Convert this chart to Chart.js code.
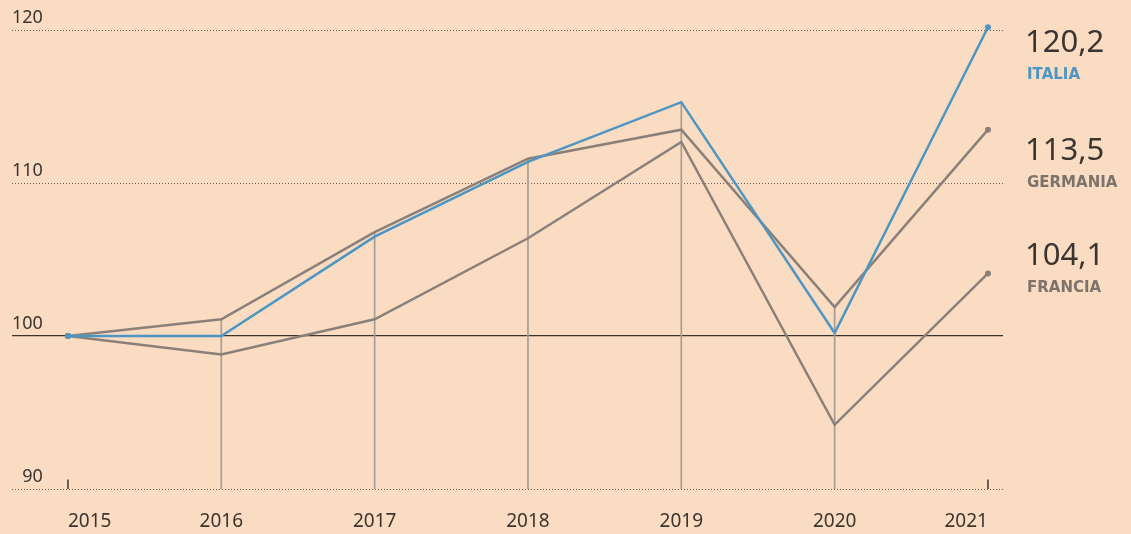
<!DOCTYPE html>
<html>
<head>
<meta charset="utf-8">
<script src="https://cdn.jsdelivr.net/npm/chart.js@4.4.1/dist/chart.umd.min.js"></script>
<style>
  html, body { margin: 0; padding: 0; background: #f9dcc1; }
  #wrap { width: 1131px; height: 534px; position: relative; }
</style>
</head>
<body>
<div id="wrap"><canvas id="grafico"></canvas></div>
<script>
// Dati (indice 2015 = 100)
const anni = [2015, 2016, 2017, 2018, 2019, 2020, 2021];
const italia = [100, 100, 106.5, 111.4, 115.3, 100.2, 120.2];
const germania = [100, 101.1, 106.8, 111.6, 113.5, 101.9, 113.5];
const francia = [100, 98.8, 101.1, 106.4, 112.7, 94.2, 104.1];
const tickY = [90, 100, 110, 120];
const nomi = ["ITALIA", "GERMANIA", "FRANCIA"];

const BLU = "#4d96c4";
const GRIGIO = "#8b8079";
const TESTO = "#3b3531";
const FONT = "'Noto Sans', sans-serif";

const grafico = document.getElementById("grafico");

// linee verticali: dal 90 fino al punto più alto di ogni anno
const ultimo = anni.length - 1;
const guide = anni.map((a, i) => {
  const cima = (i === 0 || i === ultimo) ? 90.6 : Math.max(italia[i], germania[i], francia[i]);
  return { x: a, y: [90, cima] };
});

const punti = anni.map((a, i) => (i === 0 || i === ultimo) ? 3 : 0);

// etichette a destra (valore 2021 + paese)
const etichette = {
  id: "etichette",
  afterDraw(chart) {
    const ctx = chart.ctx;
    const serie = [italia, germania, francia];
    const colori = [BLU, "#7c736c", "#7c736c"];
    const posY = [43, 151, 256];
    ctx.save();
    ctx.textAlign = "left";
    ctx.textBaseline = "middle";
    serie.forEach((s, i) => {
      ctx.fillStyle = TESTO;
      ctx.font = "31px " + FONT;
      ctx.fillText(s[s.length - 1].toFixed(1).replace(".", ","), 1025, posY[i]);
      ctx.fillStyle = colori[i];
      ctx.font = "bold 15px 'DejaVu Sans', sans-serif";
      ctx.fillText(nomi[i], 1027, posY[i] + 32);
    });
    ctx.restore();
  },
};

new Chart(grafico, {
  type: "line",
  data: {
    datasets: [
      {
        label: "Italia",
        data: anni.map((a, i) => ({ x: a, y: italia[i] })),
        borderColor: BLU,
        backgroundColor: BLU,
        borderWidth: 2.5,
        pointRadius: punti,
        pointBorderWidth: 0,
        tension: 0,
        order: 1,
      },
      {
        label: "Germania",
        data: anni.map((a, i) => ({ x: a, y: germania[i] })),
        borderColor: GRIGIO,
        backgroundColor: GRIGIO,
        borderWidth: 2.5,
        pointRadius: punti,
        pointBorderWidth: 0,
        tension: 0,
        order: 2,
      },
      {
        label: "Francia",
        data: anni.map((a, i) => ({ x: a, y: francia[i] })),
        borderColor: GRIGIO,
        backgroundColor: GRIGIO,
        borderWidth: 2.5,
        pointRadius: punti,
        pointBorderWidth: 0,
        tension: 0,
        order: 3,
      },
      {
        type: "bar",
        label: "guide",
        data: guide,
        backgroundColor: anni.map((a, i) => (i === 0 || i === ultimo) ? "#4e463f" : "#a69c94"),
        barThickness: 1,
        borderWidth: 0,
        order: 4,
      },
    ],
  },
  options: {
    responsive: true,
    maintainAspectRatio: false,
    animation: false,
    layout: {
      padding: { left: 12, right: 128, top: 15, bottom: 0 },
    },
    scales: {
      x: {
        type: "linear",
        min: 2014.635,
        max: 2021.098,
        offset: false,
        afterBuildTicks: (scale) => {
          scale.ticks = anni.map((v) => ({ value: v }));
        },
        afterFit: (scale) => {
          scale.height = 45;
        },
        grid: { display: false, drawTicks: false },
        border: { display: false },
        ticks: {
          align: "inner",
          padding: 21,
          color: TESTO,
          font: { family: FONT, size: 19 },
          callback: (v) => String(v),
        },
      },
      y: {
        min: 90,
        max: 121,
        afterBuildTicks: (scale) => {
          scale.ticks = tickY.map((v) => ({ value: v }));
        },
        afterFit: (scale) => {
          scale.width = 0;
        },
        grid: {
          drawTicks: false,
          color: (c) => (c.tick && c.tick.value === 100 ? "#3a332e" : "#6a6058"),
          lineWidth: (c) => (c.tick && c.tick.value === 100 ? 1.3 : 1),
        },
        border: {
          display: false,
          dash: (c) => (c.tick && c.tick.value === 100 ? [] : [1, 2]),
        },
        ticks: {
          mirror: true,
          padding: 0,
          labelOffset: -12,
          color: TESTO,
          font: { family: FONT, size: 18 },
          // spazio cifra davanti al 90 per allinearlo a destra come gli altri
          callback: (v) => (v < 100 ? "\u2007" : "") + String(v),
        },
      },
    },
    plugins: {
      legend: { display: false },
      tooltip: { enabled: false },
    },
  },
  plugins: [etichette],
});
</script>
</body>
</html>
